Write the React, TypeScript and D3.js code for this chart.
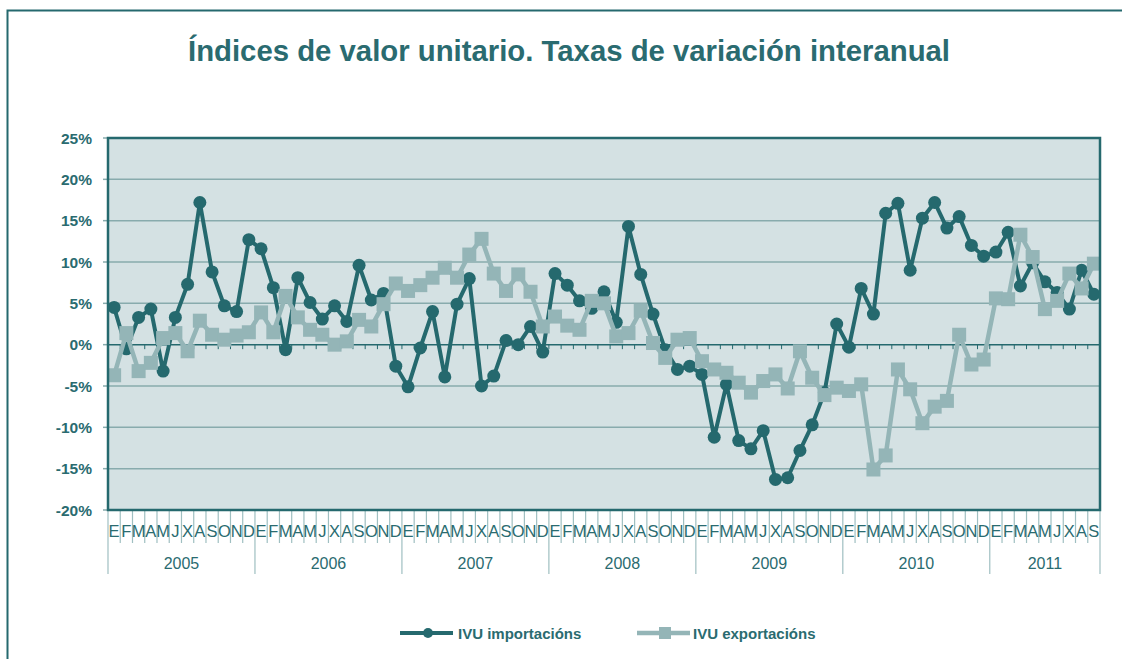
import React from "react";
import * as d3 from "d3";

const monthLabels = ["E", "F", "M", "A", "M", "J", "X", "A", "S", "O", "N", "D"];
const years = [2005, 2006, 2007, 2008, 2009, 2010, 2011];
const monthsPerYear = [12, 12, 12, 12, 12, 12, 9];
const yTicks = [-20, -15, -10, -5, 0, 5, 10, 15, 20, 25];

const imports2005 = [4.5, -0.5, 3.3, 4.3, -3.2, 3.3, 7.3, 17.2, 8.8, 4.7, 4.0, 12.7];
const imports2006 = [11.6, 6.9, -0.6, 8.1, 5.1, 3.1, 4.7, 2.8, 9.6, 5.4, 6.2, -2.6];
const imports2007 = [-5.1, -0.4, 4.0, -3.9, 4.9, 8.0, -5.0, -3.8, 0.5, 0.0, 2.2, -0.9];
const imports2008 = [8.6, 7.2, 5.3, 4.4, 6.4, 2.7, 14.3, 8.5, 3.7, -0.6, -3.0, -2.6];
const imports2009 = [-3.6, -11.2, -4.8, -11.6, -12.6, -10.4, -16.3, -16.1, -12.8, -9.7, -5.8, 2.5];
const imports2010 = [-0.3, 6.8, 3.7, 15.9, 17.1, 9.0, 15.3, 17.2, 14.1, 15.5, 12.0, 10.7];
const imports2011 = [11.2, 13.6, 7.1, 9.9, 7.6, 6.3, 4.3, 9.0, 6.1];

const exports2005 = [-3.7, 1.4, -3.2, -2.2, 0.8, 1.4, -0.8, 2.9, 1.2, 0.6, 1.1, 1.5];
const exports2006 = [3.9, 1.5, 5.9, 3.3, 1.8, 1.2, 0.0, 0.4, 3.0, 2.2, 4.9, 7.4];
const exports2007 = [6.5, 7.2, 8.1, 9.3, 8.1, 10.9, 12.8, 8.6, 6.5, 8.5, 6.4, 2.2];
const exports2008 = [3.4, 2.3, 1.8, 5.3, 5.0, 1.0, 1.4, 4.1, 0.2, -1.6, 0.6, 0.8];
const exports2009 = [-2.0, -3.0, -3.4, -4.6, -5.8, -4.4, -3.6, -5.3, -0.8, -4.0, -6.1, -5.2];
const exports2010 = [-5.6, -4.8, -15.1, -13.4, -3.0, -5.4, -9.5, -7.5, -6.8, 1.2, -2.4, -1.8];
const exports2011 = [5.6, 5.5, 13.3, 10.6, 4.3, 5.3, 8.6, 6.8, 9.8];

const imports = [
  ...imports2005, ...imports2006, ...imports2007, ...imports2008,
  ...imports2009, ...imports2010, ...imports2011,
];
const exportsData = [
  ...exports2005, ...exports2006, ...exports2007, ...exports2008,
  ...exports2009, ...exports2010, ...exports2011,
];

const DARK = "#25696e";
const LIGHT = "#94b5b7";
const TEXT = "#2a6b70";
const PLOT_BG = "#d4e1e3";
const GRID = "#88abad";
const SEP = "#9fbfc1";
const FONT = "'Liberation Sans', Arial, sans-serif";

export default function App() {
  const W = 1122;
  const H = 659;
  const left = 108, right = 1100, top = 138, bottom = 510;
  const n = imports.length;
  const idx = d3.range(n);
  const x = d3.scaleBand<number>().domain(idx).range([left, right]).padding(0);
  const bw = x.bandwidth();
  const cx = (i: number) => (x(i) as number) + bw / 2;
  const y = d3.scaleLinear().domain([-20, 25]).range([bottom, top]);

  const line = d3.line<number>().x((_, i) => cx(i)).y((d) => y(d));

  const yearStarts: number[] = [];
  let acc = 0;
  monthsPerYear.forEach((m) => {
    yearStarts.push(acc);
    acc += m;
  });

  return (
    <svg width={W} height={H} style={{ position: "absolute", left: 0, top: 0, background: "#fff" }}>
      <rect x={7.5} y={10.5} width={1130} height={670} fill="#fff" stroke={DARK} strokeWidth={2} />
      <text x={569} y={61} textAnchor="middle" fontFamily={FONT} fontWeight="bold" fontSize={30}
        fill={TEXT} textLength={762} lengthAdjust="spacingAndGlyphs">
        Índices de valor unitario. Taxas de variación interanual
      </text>

      <rect x={left} y={top} width={right - left} height={bottom - top} fill={PLOT_BG} />

      {yTicks.filter((t) => t !== 0 && t !== -20 && t !== 25).map((t) => (
        <line key={"g" + t} x1={left} x2={right} y1={y(t)} y2={y(t)} stroke={GRID} strokeWidth={1.5} />
      ))}
      {yTicks.map((t) => (
        <g key={"yt" + t}>
          <line x1={left - 5} x2={left} y1={y(t)} y2={y(t)} stroke={GRID} strokeWidth={1.5} />
          <text x={92} y={y(t) + 5.5} textAnchor="end" fontFamily={FONT} fontWeight="bold"
            fontSize={15.5} fill={TEXT}>
            {t}%
          </text>
        </g>
      ))}

      <line x1={left} x2={right} y1={y(0)} y2={y(0)} stroke={DARK} strokeWidth={1.5} />
      {d3.range(n + 1).map((k) => (
        <line key={"zt" + k} x1={left + k * bw} x2={left + k * bw} y1={y(0)} y2={y(0) + 4.5}
          stroke={DARK} strokeWidth={1} />
      ))}

      {d3.range(n + 1).map((k) => {
        const isYear = yearStarts.includes(k) || k === n;
        return (
          <line key={"ms" + k} x1={left + k * bw} x2={left + k * bw} y1={bottom}
            y2={isYear ? 574 : 543} stroke={SEP} strokeWidth={1.2} />
        );
      })}
      {idx.map((i) => (
        <text key={"ml" + i} x={cx(i)} y={536.5} textAnchor="middle" fontFamily={FONT}
          fontSize={16.5} fill={TEXT}>
          {monthLabels[i % 12]}
        </text>
      ))}
      {years.map((yr, k) => (
        <text key={"yl" + yr} x={left + (yearStarts[k] + monthsPerYear[k] / 2) * bw} y={568.5}
          textAnchor="middle" fontFamily={FONT} fontSize={16} fill={TEXT}>
          {yr}
        </text>
      ))}

      <path d={line(imports) as string} fill="none" stroke={DARK} strokeWidth={4} strokeLinejoin="round" />
      {imports.map((v, i) => (
        <circle key={"ic" + i} cx={cx(i)} cy={y(v)} r={6.5} fill={DARK} />
      ))}

      <path d={line(exportsData) as string} fill="none" stroke={LIGHT} strokeWidth={4.5} strokeLinejoin="round" />
      {exportsData.map((v, i) => (
        <rect key={"er" + i} x={cx(i) - 7} y={y(v) - 7} width={14} height={14} fill={LIGHT} />
      ))}

      <rect x={left} y={top} width={right - left} height={bottom - top} fill="none" stroke={DARK} strokeWidth={2.5} />

      <g>
        <line x1={400} x2={453} y1={633} y2={633} stroke={DARK} strokeWidth={4} />
        <circle cx={428} cy={633} r={5} fill={DARK} />
        <text x={458} y={638.5} fontFamily={FONT} fontWeight="bold" fontSize={15} fill={TEXT}>
          IVU importacións
        </text>
        <line x1={637} x2={690} y1={633} y2={633} stroke={LIGHT} strokeWidth={4.5} />
        <rect x={659} y={627} width={12} height={12} fill={LIGHT} />
        <text x={693} y={638.5} fontFamily={FONT} fontWeight="bold" fontSize={15} fill={TEXT}>
          IVU exportacións
        </text>
      </g>
    </svg>
  );
}
